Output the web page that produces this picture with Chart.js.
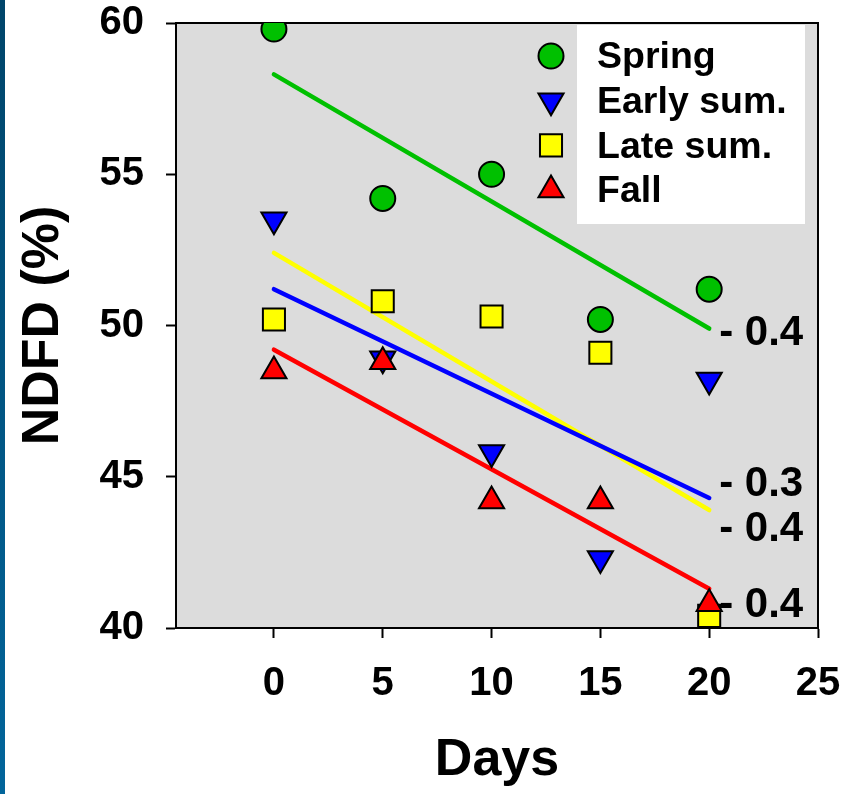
<!DOCTYPE html>
<html>
<head>
<meta charset="utf-8">
<script src="https://cdn.jsdelivr.net/npm/chart.js@4/dist/chart.umd.min.js"></script>
<style>
  html, body { margin: 0; padding: 0; background: #fff; }
  #wrap { position: relative; width: 857px; height: 794px; }
  #strip { position: absolute; left: 0; top: 0; width: 5px; height: 794px;
           background: linear-gradient(#00456a, #02659b); }
  canvas { position: absolute; left: 0; top: 0; }
</style>
</head>
<body>
<div id="wrap">
  <canvas id="ndfdChart" width="857" height="794"></canvas>
  <div id="strip"></div>
</div>
<script>
// datos
const days = [0, 5, 10, 15, 20];
const seasons = ['Spring', 'Early sum.', 'Late sum.', 'Fall'];
const spring = [59.8, 54.2, 55.0, 50.2, 51.2];
const earlySummer = [53.5, 48.9, 45.8, 42.3, 48.2];
const lateSummer = [50.2, 50.8, 50.3, 49.1, 40.4];
const fall = [48.5, 48.8, 44.2, 44.2, 40.8];

const fitDays = [0, 20];
const springFit = [58.3, 49.9];
const earlyFit = [51.2, 44.3];
const lateFit = [52.4, 43.9];
const fallFit = [49.2, 41.3];
const slopeLabels = ['- 0.4', '- 0.3', '- 0.4', '- 0.4'];

const xTicks = [0, 5, 10, 15, 20, 25];
const yTicks = [40, 45, 50, 55, 60];

const FONT = '"Liberation Sans", Arial, Helvetica, sans-serif';
const colors = ['#00c000', '#0000ff', '#ffff00', '#ff0000'];
const styles = [
  { pointStyle: 'circle', radius: 12.5, rotation: 0 },
  { pointStyle: 'triangle', radius: 14.5, rotation: 180 },
  { pointStyle: 'rect', radius: 15.6, rotation: 0 },
  { pointStyle: 'triangle', radius: 14.5, rotation: 0 }
];
const seriesValues = [spring, earlySummer, lateSummer, fall];
const fitValues = [springFit, earlyFit, lateFit, fallFit];
// posicion vertical (en unidades de y) de cada etiqueta de pendiente
const slopeLabelAt = [49.75, 44.75, 43.25, 40.75];

const toPoints = (xs, ys) => xs.map((x, i) => ({ x: x, y: ys[i] }));

const datasets = [];
fitValues.forEach((vals, i) => {
  datasets.push({
    label: seasons[i] + ' fit',
    data: toPoints(fitDays, vals),
    showLine: true,
    borderColor: colors[i],
    borderWidth: 4.5,
    borderCapStyle: 'round',
    pointRadius: 0,
    order: 10
  });
});
seriesValues.forEach((vals, i) => {
  datasets.push({
    label: seasons[i],
    data: toPoints(days, vals),
    backgroundColor: colors[i],
    borderColor: '#000',
    borderWidth: 2,
    pointStyle: styles[i].pointStyle,
    pointRadius: styles[i].radius,
    pointHoverRadius: styles[i].radius,
    pointRotation: styles[i].rotation,
    order: 4 - i
  });
});

const plotBox = {
  id: 'plotBox',
  beforeDraw(chart) {
    const { ctx, chartArea: a } = chart;
    ctx.save();
    ctx.fillStyle = '#dcdcdc';
    ctx.fillRect(a.left, a.top, a.right - a.left, a.bottom - a.top);
    ctx.restore();
  },
  beforeDatasetsDraw(chart) {
    const { ctx, chartArea: a } = chart;
    ctx.save();
    ctx.strokeStyle = '#000';
    ctx.lineWidth = 2;
    ctx.beginPath();
    ctx.moveTo(a.left, a.top);
    ctx.lineTo(a.right, a.top);
    ctx.lineTo(a.right, a.bottom);
    ctx.stroke();
    ctx.restore();
  },
  afterDatasetsDraw(chart) {
    const { ctx, chartArea: a, scales } = chart;
    ctx.save();
    // etiquetas de pendiente
    ctx.fillStyle = '#000';
    ctx.font = 'bold 42px ' + FONT;
    ctx.textAlign = 'left';
    ctx.textBaseline = 'middle';
    slopeLabels.forEach((t, i) => {
      ctx.fillText(t, scales.x.getPixelForValue(fitDays[1]) + 10, scales.y.getPixelForValue(slopeLabelAt[i]));
    });
    // leyenda
    ctx.fillStyle = '#fff';
    ctx.fillRect(a.right - 241, a.top + 2, 228, 199);
    ctx.font = 'bold 37.5px ' + FONT;
    seasons.forEach((name, i) => {
      const y = a.top + 33 + i * 44.7;
      ctx.fillStyle = colors[i];
      ctx.strokeStyle = '#000';
      ctx.lineWidth = 2;
      Chart.helpers.drawPoint(ctx, {
        pointStyle: styles[i].pointStyle,
        radius: styles[i].radius,
        rotation: styles[i].rotation,
        borderWidth: 2
      }, a.right - 267, y);
      ctx.fillStyle = '#000';
      ctx.fillText(name, a.right - 221, y + 2);
    });
    ctx.restore();
  }
};

new Chart(document.getElementById('ndfdChart'), {
  type: 'scatter',
  data: { datasets: datasets },
  options: {
    responsive: false,
    animation: false,
    events: [],
    layout: { padding: { top: 23, right: 39, left: 0, bottom: 0 } },
    plugins: { legend: { display: false }, tooltip: { enabled: false } },
    scales: {
      x: {
        type: 'linear',
        min: -4.5,
        max: 25,
        afterBuildTicks: (s) => { s.ticks = xTicks.map(v => ({ value: v })); },
        afterFit: (s) => { s.height = 166; s.paddingLeft = 0; s.paddingRight = 0; },
        grid: { drawOnChartArea: false, drawTicks: true, tickLength: 10, tickWidth: 2, tickColor: '#000' },
        border: { display: true, color: '#000', width: 2 },
        ticks: { color: '#000', padding: 22, maxRotation: 0, font: { family: FONT, size: 40, weight: 'bold' } },
        title: { display: true, text: 'Days', color: '#000', padding: { top: 0, bottom: 2 },
                 font: { family: FONT, size: 52, weight: 'bold' } }
      },
      y: {
        type: 'linear',
        min: 40,
        max: 60,
        afterBuildTicks: (s) => { s.ticks = yTicks.map(v => ({ value: v })); },
        afterFit: (s) => { s.width = 176; s.paddingTop = 0; s.paddingBottom = 0; },
        grid: { drawOnChartArea: false, drawTicks: true, tickLength: 10, tickWidth: 2, tickColor: '#000' },
        border: { display: true, color: '#000', width: 2 },
        ticks: { color: '#000', padding: 22, font: { family: FONT, size: 40, weight: 'bold' } },
        title: { display: true, text: 'NDFD (%)', color: '#000', padding: { top: 12, bottom: 0 },
                 font: { family: FONT, size: 52, weight: 'bold' } }
      }
    }
  },
  plugins: [plotBox]
});
</script>
</body>
</html>
